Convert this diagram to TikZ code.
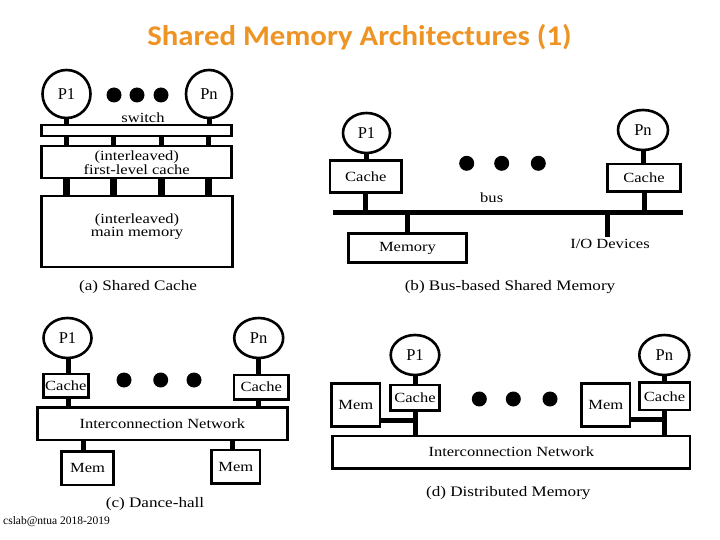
\documentclass[tikz,border=0pt]{standalone}
\usepackage{fontspec}
\setmainfont{Liberation Serif}
\newfontfamily\diagfont[FakeStretch=1.18]{Liberation Serif}
\newfontfamily\titlefont[FakeStretch=1.08]{Carlito}
\usetikzlibrary{shapes.geometric}
\definecolor{titleorange}{RGB}{238,148,36}
\tikzset{
  box/.style={draw, line width=2.6pt, fill=white, inner sep=0pt},
  proc/.style={draw, ellipse, line width=2.6pt, fill=white, inner sep=0pt, font=\fontsize{16.5}{17}\selectfont},
  stem/.style={line width=5pt},
  wstem/.style={line width=6.5pt},
  dotn/.style={fill=black, circle, inner sep=0pt, minimum size=15pt},
  lbl/.style={inner sep=0pt, font=\diagfont\fontsize{14}{10.5}\selectfont, align=center},
  captext/.style={inner sep=0pt, font=\diagfont\fontsize{14.5}{16}\selectfont},
}
\begin{document}
\begin{tikzpicture}[x=1pt,y=-1pt]
\path[use as bounding box, fill=white] (0,0) rectangle (720,540);

% title and footer
\node[inner sep=0pt, text=titleorange, font=\titlefont\bfseries\fontsize{28.5}{30}\selectfont] (title) at (359.5,37) {Shared Memory Architectures (1)};
\node[anchor=west, inner sep=0pt, font=\fontsize{11.5}{12}\selectfont] (footer) at (3,522) {cslab@ntua 2018-2019};

% ---------------- (a) Shared Cache ----------------
\node[proc, minimum width=48pt, minimum height=48pt] (P1a) at (66.5,94) {P1};
\node[proc, minimum width=46pt, minimum height=48pt] (Pna) at (209,94) {Pn};
\node[dotn] (da1) at (114,95) {};
\node[dotn] (da2) at (137,95) {};
\node[dotn] (da3) at (161,95) {};
\node[lbl] (swl) at (143,118) {switch};
\node[box, minimum width=190pt, minimum height=11pt] (swa) at (136.7,130.5) {};
\node[box, minimum width=190pt, minimum height=32pt] (cachea) at (136.7,162) {};
\node[lbl] (cacheal) at (136.7,163) {(interleaved)\\first-level cache};
\node[box, minimum width=191pt, minimum height=71pt] (mema) at (137,231.5) {};
\node[lbl] (memal) at (137,227) {(interleaved)\\main memory};
\draw[stem] (P1a.south) -- (P1a.south |- swa.north);
\draw[stem] (Pna.south) -- (Pna.south |- swa.north);
\foreach \x/\n in {66.7/1,113.3/2,161.7/3,208.3/4}{
  \coordinate (sa\n) at (\x,136);
  \draw[stem] (sa\n |- swa.south) -- (sa\n |- cachea.north);
  \draw[wstem] (sa\n |- cachea.south) -- (sa\n |- mema.north);
}
\node[captext] (capa) at (138,287) {(a) Shared Cache};

% ---------------- (b) Bus-based ----------------
\coordinate (busL) at (332.7,212.7);
\coordinate (busR) at (683.3,212.7);
\draw[line width=5pt] (busL) -- (busR);
\node[proc, minimum width=47pt, minimum height=40pt] (P1b) at (366.5,133) {P1};
\node[box, minimum width=71.7pt, minimum height=32pt, lbl] (c1b) at (365.8,176.7) {Cache};
\node[proc, minimum width=50pt, minimum height=40pt] (Pnb) at (643,130) {Pn};
\node[box, minimum width=73.4pt, minimum height=27.7pt, lbl] (cnb) at (644,177.8) {Cache};
\draw[stem] (P1b.south) -- (P1b.south |- c1b.north);
\draw[stem] (c1b.south) -- (c1b.south |- busL);
\draw[stem] (Pnb.south) -- (Pnb.south |- cnb.north);
\draw[stem] (cnb.south) -- (cnb.south |- busL);
\node[dotn] (db1) at (466.7,163.3) {};
\node[dotn] (db2) at (501.7,163.3) {};
\node[dotn] (db3) at (538.3,163.3) {};
\node[lbl] (busl) at (491.7,197.5) {bus};
\node[box, minimum width=118.4pt, minimum height=29.4pt, lbl] (memb) at (407.5,248) {Memory};
\draw[stem] (memb.north |- busL) -- (memb.north);
\coordinate (iob) at (607.3,236.7);
\draw[stem] (iob |- busL) -- (iob);
\node[lbl] (iol) at (610,244) {I/O Devices};
\node[captext] (capb) at (510,287.5) {(b) Bus-based Shared Memory};

% ---------------- (c) Dance-hall ----------------
\node[proc, minimum width=48pt, minimum height=40pt] (P1c) at (67.5,338) {P1};
\node[box, minimum width=45pt, minimum height=23.3pt, lbl] (c1c) at (65.8,385.7) {Cache};
\node[proc, minimum width=49pt, minimum height=40pt] (Pnc) at (258.7,338) {Pn};
\node[box, minimum width=54.3pt, minimum height=24.3pt, lbl] (cnc) at (261.2,387.2) {Cache};
\node[box, minimum width=250pt, minimum height=32.7pt, lbl] (netc) at (162.3,423.7) {Interconnection Network};
\node[dotn] (dc1) at (124,380) {};
\node[dotn] (dc2) at (160.7,380) {};
\node[dotn] (dc3) at (194,380) {};
\node[box, minimum width=51.6pt, minimum height=33.3pt, lbl] (m1c) at (87.5,468.3) {Mem};
\node[box, minimum width=48.3pt, minimum height=33.3pt, lbl] (m2c) at (235.8,466.7) {Mem};
\draw[stem] (68.3,358) coordinate (t1c) -- (t1c |- c1c.north);
\draw[stem] (t1c |- c1c.south) -- (t1c |- netc.north);
\draw[stem] (Pnc.south) -- (Pnc.south |- cnc.north);
\draw[stem] (Pnc.south |- cnc.south) -- (Pnc.south |- netc.north);
\draw[stem] (83.3,440) coordinate (b1c) -- (b1c |- m1c.north);
\draw[stem] (232.7,440) coordinate (b2c) -- (b2c |- m2c.north);
\node[captext] (capc) at (155,504.5) {(c) Dance-hall};

% ---------------- (d) Distributed ----------------
\node[box, minimum width=357.3pt, minimum height=32.3pt, lbl] (netd) at (511.3,452.2) {Interconnection Network};
\node[proc, minimum width=48.6pt, minimum height=40pt] (P1d) at (415,355) {P1};
\node[box, minimum width=48.6pt, minimum height=25.7pt, lbl] (c1d) at (415,397.8) {Cache};
\node[box, minimum width=48.3pt, minimum height=43.4pt, lbl] (m1d) at (355.8,405) {Mem};
\node[proc, minimum width=50pt, minimum height=40pt] (Pnd) at (664.3,355) {Pn};
\node[box, minimum width=50.7pt, minimum height=27.3pt, lbl] (cnd) at (664.6,396.3) {Cache};
\node[box, minimum width=48.3pt, minimum height=43.4pt, lbl] (mnd) at (605.8,405) {Mem};
\draw[stem] (P1d.south) -- (c1d.north);
\draw[stem] (c1d.south) -- (c1d.south |- netd.north);
\draw[stem] (m1d.east |- 0,420) coordinate (h1d) -- (c1d.south |- h1d);
\draw[stem] (Pnd.south) -- (Pnd.south |- cnd.north);
\draw[stem] (Pnd.south |- cnd.south) -- (Pnd.south |- netd.north);
\draw[stem] (mnd.east |- 0,419.3) coordinate (hnd) -- (Pnd.south |- hnd);
\node[dotn] (dd1) at (479.3,399) {};
\node[dotn] (dd2) at (513.3,399) {};
\node[dotn] (dd3) at (550,399) {};
\node[captext] (capd) at (508.3,493) {(d) Distributed Memory};
\end{tikzpicture}
\end{document}
